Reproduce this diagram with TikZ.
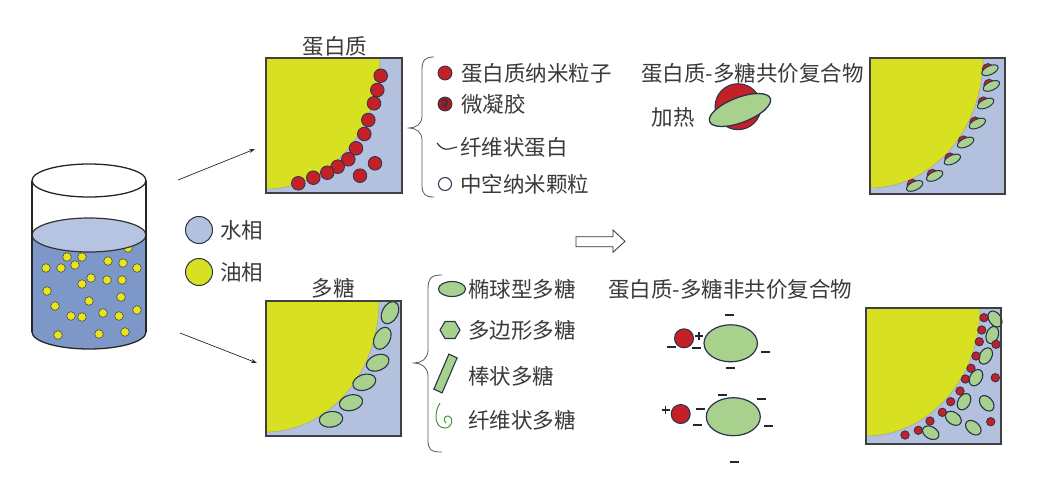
\documentclass[tikz,border=0pt]{standalone}
\usepackage{fontspec}
\newfontfamily\cjk{Noto Sans CJK SC}
\usetikzlibrary{arrows.meta}
\definecolor{boxblue}{RGB}{179,193,222}
\definecolor{oilyel}{RGB}{216,224,34}
\definecolor{dotyel}{RGB}{232,230,25}
\definecolor{pred}{RGB}{196,32,40}
\definecolor{pgreen}{RGB}{169,209,142}
\definecolor{navy}{RGB}{40,52,75}
\definecolor{waterbody}{RGB}{126,151,201}
\definecolor{watertop}{RGB}{182,196,226}
\definecolor{txtgray}{RGB}{58,58,58}
\definecolor{edgegray}{RGB}{64,64,64}
\definecolor{fibgreen}{RGB}{70,150,60}
\begin{document}
\begin{tikzpicture}[x=1pt,y=-1pt,
  txt/.style={font=\cjk\fontsize{21.5}{24}\selectfont, text=txtgray, inner sep=0pt},
  framebox/.style={draw=edgegray, line width=2pt},
  oilface/.style={fill=oilyel, draw=gray!70, line width=0.6pt},
  reddot/.style={fill=pred, draw=navy, line width=0.8pt},
  gell/.style={fill=pgreen, draw=navy, line width=1.1pt},
  ydot/.style={fill=dotyel, draw=black!70, line width=0.6pt},
  chg/.style={draw=black!85, line width=2.2pt},
  plus/.style={draw=black!85, line width=1.2pt},
  conn/.style={draw=black!85, line width=0.7pt, -{Stealth[length=6pt,width=4pt]}},
  bracestyle/.style={draw=gray!70!black, line width=0.8pt}
]
\useasboundingbox (0,0) rectangle (1049,493);

% ---------------- Beaker ----------------
\fill[waterbody] (32,235) rectangle (146,332);
\fill[waterbody] (89,332) ellipse[x radius=57, y radius=17];
\foreach \px/\py in {67/257,82/257,75/265,61/268,46/268,108/261,123/263,137/268,128/248,
  91/278,82/284,107/280,122/280,47/291,89/301,121/297,55/306,71/316,82/317,103/313,
  119/316,137/310,58/335,99/334,125/332}
  \filldraw[ydot] (\px,\py) circle[radius=4.3];
\filldraw[fill=watertop, draw=black!80, line width=1.2pt] (89,235) ellipse[x radius=57, y radius=17];
\draw[black!85, line width=1.3pt] (89,180.5) ellipse[x radius=57, y radius=16.5];
\draw[black!85, line width=1.3pt] (32,180.5) -- (32,332);
\draw[black!85, line width=1.3pt] (146,180.5) -- (146,332);
\begin{scope}
  \clip (20,332) rectangle (160,360);
  \draw[black!85, line width=1.3pt] (89,332) ellipse[x radius=57, y radius=17];
\end{scope}
\coordinate (beakerTop) at (178,180);
\coordinate (beakerBot) at (180,333);

% legend water / oil
\node[circle, fill=boxblue, draw=navy, line width=1pt, minimum size=27pt, inner sep=0pt] (legW) at (199,230) {};
\node[txt, anchor=west] (legWt) at (220,230) {水相};
\node[circle, fill=oilyel, draw=navy, line width=1pt, minimum size=27pt, inner sep=0pt] (legO) at (199,272) {};
\node[txt, anchor=west] (legOt) at (220,272) {油相};

% ---------------- Protein box ----------------
\node[txt] (titleP) at (335,46) {蛋白质};
\fill[boxblue] (266,58) rectangle (402,193);
\begin{scope}
  \clip (266,58) rectangle (402,193);
  \filldraw[oilface] (266,58) ellipse[x radius=114, y radius=131];
\end{scope}
\foreach \px/\py in {380.7/75.7,377.3/90,374/103.3,368.3/120,364.3/134,356/148.3,348.3/159.3,
  337.7/166.7,327.3/172.7,313.3/177.7,298.3/183.3,360/175.7,375/163.3}
  \filldraw[reddot] (\px,\py) circle[radius=6.8];
\node[framebox, minimum width=136pt, minimum height=135pt, inner sep=0pt] (boxP) at (334,125.5) {};

% protein legend brace
\draw[bracestyle] (434,57) .. controls (425,57) and (422,60) .. (422,70) -- (422,116)
  .. controls (422,124) and (416,128) .. (409,128)
  .. controls (416,128) and (422,132) .. (422,140) -- (422,185)
  .. controls (422,194) and (425,197) .. (434,197);
\filldraw[reddot] (445,73) circle[radius=7];
\node[txt, anchor=west] (lp1) at (461,73) {蛋白质纳米粒子};
\filldraw[fill=pred!85!black, draw=navy, line width=0.8pt] (445,104) circle[radius=7];
\draw[navy, line width=0.9pt] (441,101) .. controls (444,98) and (450,100) .. (447,104)
  .. controls (445,107) and (441,106) .. (443,103) (445,98.5) -- (446,109);
\node[txt, anchor=west] (lp2) at (461,104) {微凝胶};
\draw[navy, line width=1.2pt] (437,143) .. controls (441,148) and (444,150) .. (449,149) -- (457,147);
\node[txt, anchor=west] (lp3) at (460,147) {纤维状蛋白};
\draw[navy, line width=1pt] (445,184) circle[radius=6.5];
\node[txt, anchor=west] (lp4) at (460,184) {中空纳米颗粒};

% ---------------- Polysaccharide box ----------------
\node[txt] (titleS) at (333,288) {多糖};
\fill[boxblue] (266,301) rectangle (401,436);
\begin{scope}
  \clip (266,301) rectangle (401,436);
  \filldraw[oilface] (266,301) ellipse[x radius=113, y radius=131];
\end{scope}
\foreach \px/\py/\ang in {390/312.7/62,382.3/338.3/62,377.7/362.7/22,364.3/382.3/18,351/402.7/14,331/419.3/8}
  \filldraw[gell, rotate around={\ang:(\px,\py)}] (\px,\py) ellipse[x radius=11.8, y radius=7.8];
\node[framebox, minimum width=135pt, minimum height=135pt, inner sep=0pt] (boxS) at (333.5,368.5) {};

% polysaccharide legend brace
\draw[bracestyle] (442,275) .. controls (431,275) and (428,278) .. (428,290) -- (428,350)
  .. controls (428,359) and (421,363) .. (414,363)
  .. controls (421,363) and (428,367) .. (428,376) -- (428,440)
  .. controls (428,450) and (431,452) .. (442,452);
\filldraw[gell] (452,289) ellipse[x radius=13.5, y radius=7.5];
\node[txt, anchor=west] (ls1) at (468,289) {椭球型多糖};
\filldraw[gell] (440,330) -- (445,321.5) -- (455,321.5) -- (460,330) -- (455,338.5) -- (445,338.5) -- cycle;
\node[txt, anchor=west] (ls2) at (468,330) {多边形多糖};
\filldraw[gell] (457.1,357.9) -- (448.9,354.1) -- (433.9,389.1) -- (442.1,392.9) -- cycle;
\node[txt, anchor=west] (ls3) at (468,376) {棒状多糖};
\draw[fibgreen, line width=1pt] (440,403) .. controls (434,412) and (434,428) .. (445,428)
  .. controls (452,428) and (455,418) .. (448,416) .. controls (444,416) and (443,420) .. (446,423);
\node[txt, anchor=west] (ls4) at (468,420) {纤维状多糖};

% arrows from beaker
\draw[conn] (beakerTop) -- (255,149);
\draw[conn] (beakerBot) -- (257,363);

% hollow arrow
\filldraw[fill=white, draw=black!80, line width=0.8pt] (576,236.7) -- (613,236.7) -- (613,230)
  -- (625,241.3) -- (613,252.3) -- (613,246.7) -- (576,246.7) -- cycle;

% ---------------- Covalent complex ----------------
\node[txt, anchor=west] (titleC) at (641,73) {蛋白质-多糖共价复合物};
\node[txt] (heat) at (673,117) {加热};
\filldraw[reddot, line width=1pt] (738,106.7) circle[radius=23];
\filldraw[gell, line width=1.3pt, rotate around={21:(740,110)}] (740,110) ellipse[x radius=32.5, y radius=12.5];

\fill[boxblue] (870,58) rectangle (1005,194);
\begin{scope}
  \clip (870,58) rectangle (1005,194);
  \filldraw[oilface] (870,58) ellipse[x radius=113, y radius=130];
\end{scope}
\foreach \px/\py in {989.3/70,990.7/85.7,985/103.3,976.7/123.3,965/142.3,951.7/159.3,934/175.7,914/185.7}{
  \filldraw[fill=pred, draw=navy, line width=0.7pt] (\px-1.5,\py-1) circle[radius=5.5];
  \filldraw[gell, line width=1pt, rotate around={25:(\px,\py)}] (\px+0.5,\py+0.5) ellipse[x radius=8.8, y radius=4.3];
}
\node[framebox, minimum width=135pt, minimum height=136pt, inner sep=0pt] (boxC) at (937.5,126) {};

% ---------------- Non-covalent complex ----------------
\node[txt, anchor=west] (titleN) at (608,289) {蛋白质-多糖非共价复合物};
\filldraw[reddot, line width=1pt] (684,338.3) circle[radius=9.5];
\filldraw[gell, line width=1.2pt] (730.7,343.3) ellipse[x radius=26.7, y radius=18.5];
\foreach \px/\py in {729.3/315,671/347.3,696.7/348.3,765/351.7,730/368.3}
  \draw[chg] (\px-4.5,\py) -- (\px+4.5,\py);
\draw[plus] (695,336) -- (703,336) (699,332) -- (699,340);

\filldraw[reddot, line width=1pt] (680.7,414) circle[radius=9.5];
\filldraw[gell, line width=1.2pt] (733.3,416.7) ellipse[x radius=27, y radius=19];
\foreach \px/\py in {722.7/395,761.7/399.3,700/409.3,697.3/425,768.3/425.7,734.3/462.3}
  \draw[chg] (\px-4.5,\py) -- (\px+4.5,\py);
\draw[plus] (661.7,410) -- (669.7,410) (665.7,406) -- (665.7,414);

\fill[boxblue] (866,308) rectangle (1001,444);
\begin{scope}
  \clip (866,308) rectangle (1001,444);
  \filldraw[oilface] (866,308) ellipse[x radius=114, y radius=128];
\end{scope}
\foreach \px/\py/\ang in {995/319/-55,992.3/335/70,985.7/356/60,976/377.7/60,964/401.7/60,
  986.7/403.3/-50,953.3/418.3/-35,973.3/427.7/-40,930.7/432.7/-30}
  \filldraw[gell, rotate around={\ang:(\px,\py)}] (\px,\py) ellipse[x radius=8.8, y radius=6];
\foreach \px/\py in {984/317.7,981.7/330,979.3/341.7,996/344.3,976/356,971/368.3,965.3/379,
  995.3/377.7,960/391,950.7/401.7,942.3/412.3,930/421,918.3/430.3,905/435,990.7/421.7}
  \filldraw[reddot] (\px,\py) circle[radius=4.2];
\node[framebox, minimum width=135pt, minimum height=136pt, inner sep=0pt] (boxN) at (933.5,376) {};
\end{tikzpicture}
\end{document}
